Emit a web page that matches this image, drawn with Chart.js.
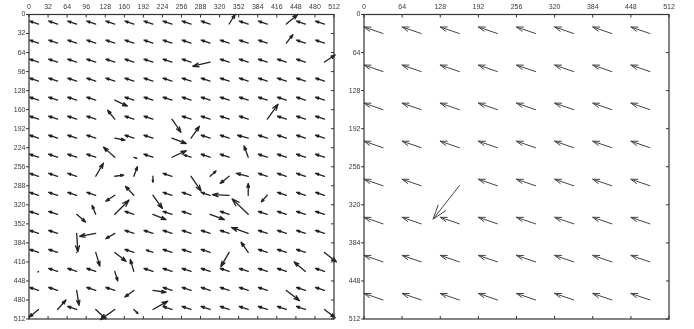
<!DOCTYPE html>
<html>
<head>
<meta charset="utf-8">
<script src="https://cdn.jsdelivr.net/npm/chart.js@4/dist/chart.umd.min.js"></script>
<style>
  html, body { margin: 0; padding: 0; background: #fff; }
  body { width: 694px; height: 329px; position: relative; overflow: hidden; }
  canvas { position: absolute; top: 0; }
  #left { left: 0; }
  #right { left: 335px; }
</style>
</head>
<body>
<canvas id="left" width="347" height="329"></canvas>
<canvas id="right" width="359" height="329"></canvas>
<script>
// Fine grid: sample positions (pixels) on both axes
const fineX = [16, 48, 80, 112, 144, 176, 208, 240, 272, 304, 336, 368, 400, 432, 464, 496];
const fineY = [16, 48, 80, 112, 144, 176, 208, 240, 272, 304, 336, 368, 400, 432, 464, 496];
const fineTicks = [0, 32, 64, 96, 128, 160, 192, 224, 256, 288, 320, 352, 384, 416, 448, 480, 512];

// Fine grid: horizontal displacement (one row per fineY entry)
const fineU = [
  [-15,-15,-15,-15,-15,-15,-15,-15,-15,-15, 10,-15,-15, 19,-15,-15],
  [-15,-15,-15,-15,-15,-15,-15,-15,-15,-15,-15,-15,-15, 11,-15,-15],
  [-15,-15,-15,-15,-15,-15,-15,-15,-15,-29,-15,-15,-15,-15,-15, 18],
  [-15,-15,-15,-15,-15,-15,-15,-15,-15,-15,-15,-15,-15,-15,-15,-15],
  [-15,-15,-15,-15, 21,-15,-15,-15,-15,-15,-15,-15,-15,-15,-15,-15],
  [-15,-15,-15,-15,-12,-15,-15, 15,-15,-15,-15,-15, 18,-15,-15,-15],
  [-15,-15,-15,-15, 17,-15,-15, 24, 14,-15,-15,-18,-15,-15,-15,-15],
  [-15,-15,-15,-15,-19,  5,-15, 24,-12,-15,-15, -7,-15,-15,-15,-15],
  [-15,-15,-15, 13, 15,  6,  0,-15, 17, 10,-15,-20,-15,-15,-15,-15],
  [-15,-15,-15,-15,-15,-14, 16,-15,-15,-15,-28,  0,-10,-15,-15,-15],
  [-15,-15, 15, -6, 24,-15, 22,-15,-15, 24,-15,-27,-15,-15,-15,-15],
  [-15,-15,  2,-27,-15,-15,-15,-15,-15,-15,-15,-28,-15,-15,-15,-15],
  [-15,-15,  0,  7, 19,-15,-11,-15,-15,-15,-14,-12,-15,-15,-15, 20],
  [ -1,-15,-15,-15,  5, -6,-15,-15,-15,-15,-15,-15,-15,-15,-19,-15],
  [-15,-15,  4,-15,-15,-15, 22,-15,-15,-15,-15,-15,-15, 22,-15,-15],
  [-16, 14,-15, 17,-24,  7, 25,-15,-15,-15,-15,-15,-15,-15,-15, 18]
];
// Fine grid: vertical displacement (positive = downwards)
const fineV = [
  [ -5, -5, -5, -5, -5, -5, -5, -5, -5, -5,-16, -5, -5,-16, -5, -5],
  [ -5, -5, -5, -5, -5, -5, -5, -5, -5, -5, -5, -5, -5,-14, -5, -5],
  [ -5, -5, -5, -5, -5, -5, -5, -5, -5,  7, -5, -5, -5, -5, -5,-12],
  [ -5, -5, -5, -5, -5, -5, -5, -5, -5, -5, -5, -5, -5, -5, -5, -5],
  [ -5, -5, -5, -5, 10, -5, -5, -5, -5, -5, -5, -5, -5, -5, -5, -5],
  [ -5, -5, -5, -5,-15, -5, -5, 22, -5, -5, -5, -5,-25, -5, -5, -5],
  [ -5, -5, -5, -5,  3, -5, -5,  9,-20, -5, -5, -5, -5, -5, -5, -5],
  [ -5, -5, -5, -5,-17,  2, -5,-11, -4, -5, -5,-19, -5, -5, -5, -5],
  [ -5, -5, -5,-22, -2,-16, 10, -5, 25, -9, 12, -5, -5, -5, -5, -5],
  [ -5, -5, -5, -5, 10,-15, 22, -5, -5, -5, -1,-20, 11, -5, -5, -5],
  [ -5, -5, 13,-15,-24, -5,  9, -5, -5,  9, -5,-26, -5, -5, -5, -5],
  [ -5, -5, 31,  5,  9, -5, -5, -5, -5, -5, -5,-10, -5, -5, -5, -5],
  [ -5, -5,  0, 23, 15, -5, -4, -5, -5, -5, 24,-17, -5, -5, -5, 16],
  [  1, -5, -5, -5, 16,-20, -5, -5, -5, -5, -5, -5, -5, -5,-16, -5],
  [ -5, -5, 25, -5, -5, 11,  3, -5, -5, -5, -5, -5, -5, 17, -5, -5],
  [ 13,-16, -5, 16, 17,  7,-14, -5, -5, -5, -5, -5, -5, -5, -5, 14]
];

// Coarse grid
const coarseX = [32, 96, 160, 224, 288, 352, 416, 480];
const coarseY = [32, 96, 160, 224, 288, 352, 416, 480];
const coarseTicks = [0, 64, 128, 192, 256, 320, 384, 448, 512];
const coarseU = [
  [-32,-32,-32,-32,-32,-32,-32,-32],
  [-32,-32,-32,-32,-32,-32,-32,-32],
  [-32,-32,-32,-32,-32,-32,-32,-32],
  [-32,-32,-32,-32,-32,-32,-32,-32],
  [-32,-32,-44,-32,-32,-32,-32,-32],
  [-32,-32,-32,-32,-32,-32,-32,-32],
  [-32,-32,-32,-32,-32,-32,-32,-32],
  [-32,-32,-32,-32,-32,-32,-32,-32]
];
const coarseV = [
  [-11,-11,-11,-11,-11,-11,-11,-11],
  [-11,-11,-11,-11,-11,-11,-11,-11],
  [-11,-11,-11,-11,-11,-11,-11,-11],
  [-11,-11,-11,-11,-11,-11,-11,-11],
  [-11,-11, 56,-11,-11,-11,-11,-11],
  [-11,-11,-11,-11,-11,-11,-11,-11],
  [-11,-11,-11,-11,-11,-11,-11,-11],
  [-11,-11,-11,-11,-11,-11,-11,-11]
];

// Arrow glyphs (quiver style: head spans a third of the shaft)
const quiverPlugin = {
  id: 'quiver',
  afterDatasetsDraw(chart, args, o) {
    const { ctx } = chart;
    const sx = chart.scales.x, sy = chart.scales.y;
    ctx.save();
    ctx.strokeStyle = o.color;
    ctx.lineWidth = o.lineWidth;
    ctx.lineCap = 'round';
    ctx.lineJoin = 'round';
    o.ys.forEach((yv, j) => {
      o.xs.forEach((xv, i) => {
        const u = o.u[j][i], v = o.v[j][i];
        const x0 = sx.getPixelForValue(xv), y0 = sy.getPixelForValue(yv);
        const x1 = sx.getPixelForValue(xv + u), y1 = sy.getPixelForValue(yv + v);
        const dx = x1 - x0, dy = y1 - y0;
        const a = 0.33, b = 0.33;
        ctx.beginPath();
        ctx.moveTo(x0, y0);
        ctx.lineTo(x1, y1);
        ctx.moveTo(x1 - a * (dx + b * dy), y1 - a * (dy - b * dx));
        ctx.lineTo(x1, y1);
        ctx.lineTo(x1 - a * (dx - b * dy), y1 - a * (dy + b * dx));
        ctx.stroke();
      });
    });
    ctx.restore();
  }
};

// Box frame with tick marks: outward on the left, inward elsewhere
const framePlugin = {
  id: 'frame',
  afterDraw(chart, args, o) {
    const { ctx, chartArea: a } = chart;
    const sx = chart.scales.x, sy = chart.scales.y;
    const L = 3;
    ctx.save();
    ctx.strokeStyle = '#333';
    ctx.lineWidth = 1.2;
    ctx.strokeRect(a.left, a.top, a.right - a.left, a.bottom - a.top);
    ctx.lineWidth = 1;
    ctx.beginPath();
    o.ticks.forEach(t => {
      const px = sx.getPixelForValue(t), py = sy.getPixelForValue(t);
      ctx.moveTo(px, a.top); ctx.lineTo(px, a.top + L);
      ctx.moveTo(px, a.bottom); ctx.lineTo(px, a.bottom - L);
      ctx.moveTo(a.left, py); ctx.lineTo(a.left - L, py);
      ctx.moveTo(a.right, py); ctx.lineTo(a.right - L, py);
    });
    ctx.stroke();
    ctx.restore();
  }
};

function panel(id, xs, ys, u, v, ticks, step, pad, color, lw) {
  const pts = [];
  ys.forEach(yv => xs.forEach(xv => pts.push({ x: xv, y: yv })));
  const font = { family: 'Liberation Sans, Arial, sans-serif', size: 7 };
  new Chart(document.getElementById(id), {
    type: 'scatter',
    data: { datasets: [{ data: pts, pointRadius: 0, showLine: false }] },
    options: {
      responsive: false,
      animation: false,
      events: [],
      layout: { padding: pad },
      plugins: {
        legend: { display: false },
        tooltip: { enabled: false },
        quiver: { xs, ys, u, v, color, lineWidth: lw },
        frame: { ticks }
      },
      scales: {
        x: {
          type: 'linear', position: 'top', min: 0, max: 512,
          grid: { display: false, drawTicks: false },
          border: { display: false },
          ticks: { stepSize: step, autoSkip: false, maxRotation: 0, padding: 3, color: '#3a3a3a', font },
          afterFit(s) { s.height = 14.5; }
        },
        y: {
          type: 'linear', position: 'left', reverse: true, min: 0, max: 512,
          grid: { display: false, drawTicks: false },
          border: { display: false },
          ticks: { stepSize: step, autoSkip: false, padding: 3.5, color: '#3a3a3a', font },
          afterFit(s) { s.width = 29; }
        }
      }
    },
    plugins: [quiverPlugin, framePlugin]
  });
}

panel('left', fineX, fineY, fineU, fineV, fineTicks, 32,
      { left: 0, top: 0, right: 13, bottom: 10 }, '#222', 1.3);
panel('right', coarseX, coarseY, coarseU, coarseV, coarseTicks, 64,
      { left: 0, top: 0, right: 25, bottom: 10 }, '#444', 1);
</script>
</body>
</html>
